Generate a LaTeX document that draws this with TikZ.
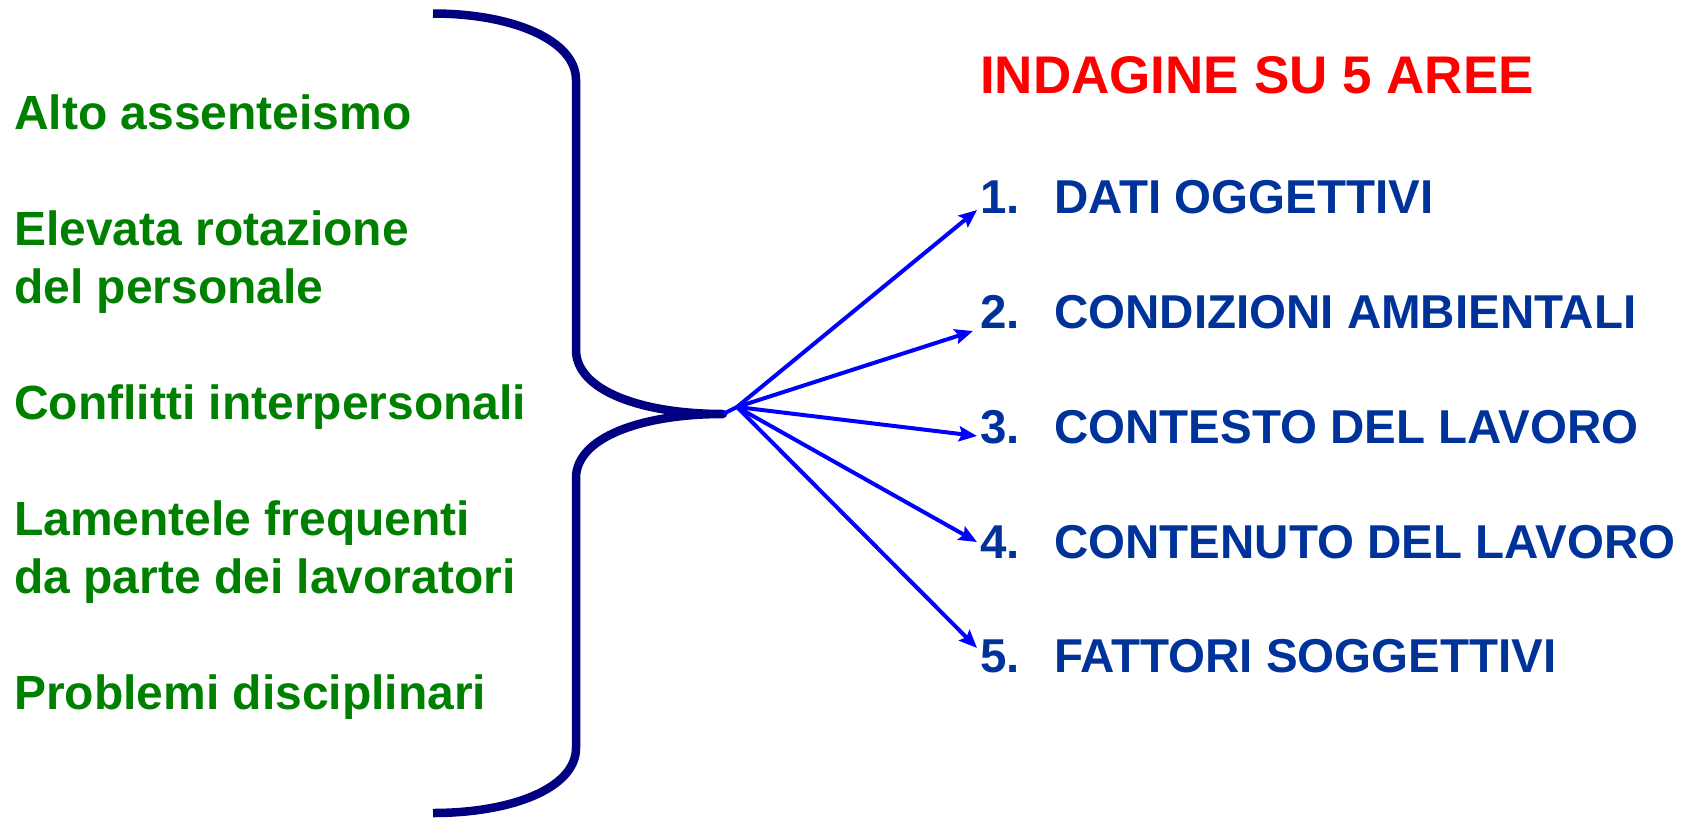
\documentclass[tikz,border=0pt]{standalone}
\usepackage{fontspec}
\setmainfont{Liberation Sans}
\usetikzlibrary{arrows.meta}
\definecolor{causegreen}{HTML}{008000}
\definecolor{areablue}{HTML}{003399}
\definecolor{titlered}{HTML}{FF0000}
\definecolor{bracenavy}{HTML}{000080}
\definecolor{arrowblue}{HTML}{0000FF}
\tikzset{
  cause/.style={anchor=base west, inner sep=0pt, text=causegreen,
    font=\fontsize{48pt}{58pt}\selectfont\bfseries},
  area/.style={anchor=base west, inner sep=0pt, text=areablue,
    font=\fontsize{47.5pt}{58pt}\selectfont\bfseries},
  heading/.style={anchor=base west, inner sep=0pt, text=titlered,
    font=\fontsize{53pt}{64pt}\selectfont\bfseries},
  bracestroke/.style={draw=bracenavy, line width=8.5pt, line join=round},
  fan/.style={draw=arrowblue, line width=4pt,
    -{Stealth[length=18pt, width=15pt, inset=3pt]}},
}
\begin{document}
\begin{tikzpicture}[x=1pt, y=-1pt]
  \useasboundingbox (0,0) rectangle (1696,819);

  % causes listed on the left
  \node[cause] (c1)  at (14,129) {Alto assenteismo};
  \node[cause] (c2a) at (14,245) {Elevata rotazione};
  \node[cause] (c2b) at (14,303) {del personale};
  \node[cause] (c3)  at (14,419) {Conflitti interpersonali};
  \node[cause] (c4a) at (14,535) {Lamentele frequenti};
  \node[cause] (c4b) at (14,593) {da parte dei lavoratori};
  \node[cause] (c5)  at (14,709) {Problemi disciplinari};

  % the curly brace gathering the causes
  \coordinate (tip) at (723,414);
  \draw[bracestroke]
    (433,13.5) .. controls (512,13.5) and (576,40) .. (576,80)
    -- (576,350)
    .. controls (576,390) and (640,414) .. (tip)
    .. controls (640,414) and (576,438) .. (576,478)
    -- (576,748)
    .. controls (576,788) and (512,813) .. (433,813);

  % heading and the five areas on the right
  \node[heading] (title) at (980,93) {INDAGINE SU 5 AREE};

  \node[area] (n1) at (980,213) {1.};
  \node[area] (n2) at (980,328) {2.};
  \node[area] (n3) at (980,443) {3.};
  \node[area] (n4) at (980,558) {4.};
  \node[area] (n5) at (980,672) {5.};

  \node[area] (a1) at (1054,213) {DATI OGGETTIVI};
  \node[area] (a2) at (1054,328) {CONDIZIONI AMBIENTALI};
  \node[area] (a3) at (1054,443) {CONTESTO DEL LAVORO};
  \node[area] (a4) at (1054,558) {CONTENUTO DEL LAVORO};
  \node[area] (a5) at (1054,672) {FATTORI SOGGETTIVI};

  % fan of arrows from the brace tip to each area
  \coordinate (hub) at (737,407);
  \coordinate (t1) at (977,210);
  \coordinate (t2) at (973,331);
  \coordinate (t3) at (977,436);
  \coordinate (t4) at (977,542);
  \coordinate (t5) at (977,648);

  \draw[draw=arrowblue, line width=4pt] (tip) -- (hub);
  \foreach \k in {1,...,5} {
    \draw[fan] (hub) -- (t\k);
  }
\end{tikzpicture}
\end{document}
